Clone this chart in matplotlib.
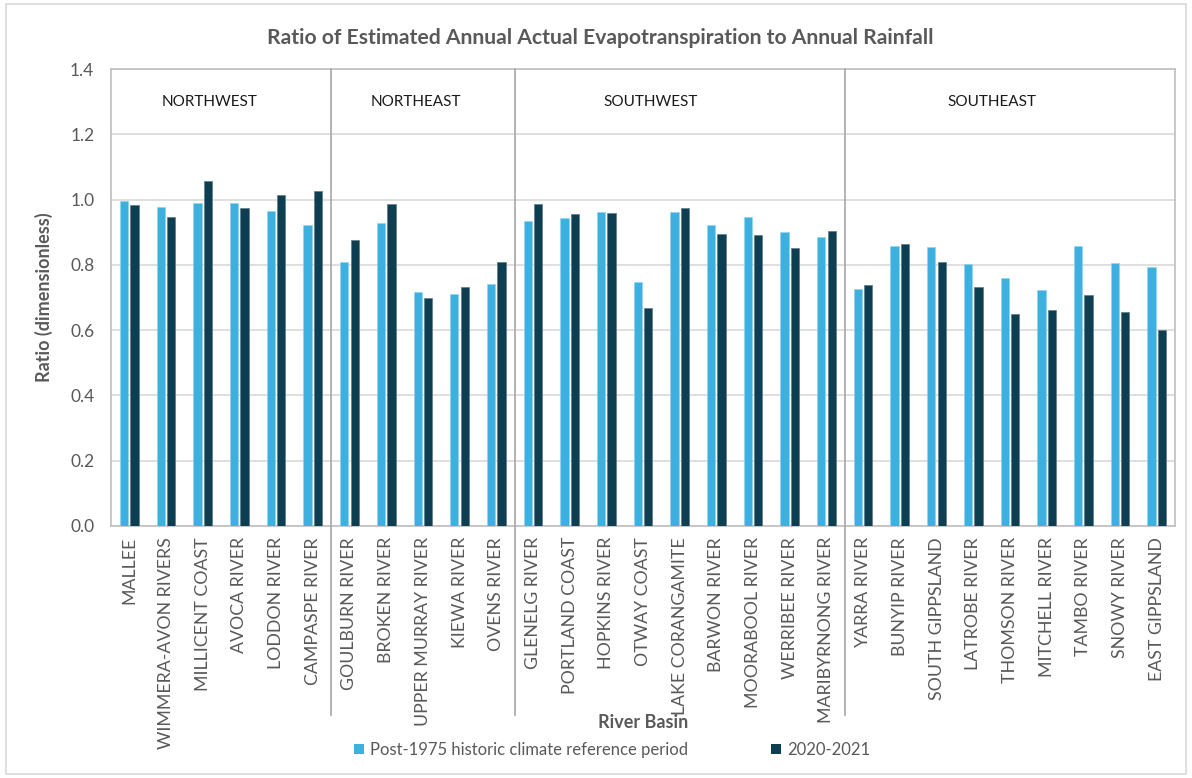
import matplotlib
matplotlib.use("Agg")
import matplotlib.pyplot as plt
import numpy as np
from matplotlib.transforms import blended_transform_factory
from matplotlib.patches import Rectangle, Patch

plt.rcParams['font.family'] = ['Lato', 'DejaVu Sans']

basins = [
    "MALLEE", "WIMMERA-AVON RIVERS", "MILLICENT COAST", "AVOCA RIVER",
    "LODDON RIVER", "CAMPASPE RIVER",
    "GOULBURN RIVER", "BROKEN RIVER", "UPPER MURRAY RIVER", "KIEWA RIVER",
    "OVENS RIVER",
    "GLENELG RIVER", "PORTLAND COAST", "HOPKINS RIVER", "OTWAY COAST",
    "LAKE CORANGAMITE", "BARWON RIVER", "MOORABOOL RIVER", "WERRIBEE RIVER",
    "MARIBYRNONG RIVER",
    "YARRA RIVER", "BUNYIP RIVER", "SOUTH GIPPSLAND", "LATROBE RIVER",
    "THOMSON RIVER", "MITCHELL RIVER", "TAMBO RIVER", "SNOWY RIVER",
    "EAST GIPPSLAND",
]

post_1975 = [
    0.995, 0.977, 0.990, 0.988, 0.966, 0.923,
    0.810, 0.927, 0.717, 0.710, 0.740,
    0.933, 0.944, 0.961, 0.746, 0.961, 0.922, 0.946, 0.901, 0.884,
    0.726, 0.858, 0.856, 0.803, 0.760, 0.724, 0.858, 0.805, 0.792,
]

y2020_21 = [
    0.983, 0.947, 1.056, 0.975, 1.013, 1.025,
    0.875, 0.985, 0.698, 0.732, 0.808,
    0.985, 0.956, 0.958, 0.669, 0.975, 0.896, 0.892, 0.853, 0.903,
    0.737, 0.865, 0.810, 0.732, 0.648, 0.662, 0.708, 0.657, 0.600,
]

regions = ["NORTHWEST", "NORTHEAST", "SOUTHWEST", "SOUTHEAST"]
region_sizes = [6, 5, 9, 9]
region_label_x = [2.2, 7.8, 14.2, 23.5]

series_labels = ["Post-1975 historic climate reference period", "2020-2021"]
light = "#3db0df"
dark = "#0e3e52"
text_grey = "#595959"

W, H = 1192, 778
fig = plt.figure(figsize=(W / 100, H / 100), dpi=100)
ax = fig.add_axes([111 / W, 1 - 526 / H, (1175 - 111) / W, (526 - 69) / H])

x = np.arange(len(basins))
bw = 0.226
ax.bar(x - 0.142, post_1975, width=bw, color=light, edgecolor="#8fd3ef",
       linewidth=0.5, zorder=3)
ax.bar(x + 0.142, y2020_21, width=bw, color=dark, edgecolor="#5f7a86",
       linewidth=0.5, zorder=3)

ax.set_xlim(-0.5, len(basins) - 0.5)
ax.set_ylim(0, 1.4)
ax.set_yticks(np.arange(0, 1.41, 0.2))
ax.set_yticklabels([f"{v:.1f}" for v in np.arange(0, 1.41, 0.2)])
ax.yaxis.grid(True, color="#d9d9d9", linewidth=1.2, zorder=0)
ax.set_axisbelow(True)
ax.tick_params(axis="y", length=0, pad=12, labelsize=12.5, labelcolor=text_grey)
ax.set_xticks(x)
ax.set_xticklabels(basins, rotation=90, fontsize=12.8, color=text_grey)
ax.tick_params(axis="x", length=0, pad=8)
for side in ["left", "top", "right", "bottom"]:
    ax.spines[side].set_color("#bfbfbf")
    ax.spines[side].set_linewidth(1.2)

# Region dividers running from the top of the plot down through the labels
trans = blended_transform_factory(ax.transData, fig.transFigure)
bounds = np.cumsum(region_sizes)[:-1] - 0.5
for b in bounds:
    ax.plot([b, b], [1 - 69 / H, 1 - 715 / H], transform=trans,
            color="#a6a6a6", linewidth=1.2, clip_on=False, zorder=4)

for name, rx in zip(regions, region_label_x):
    ax.text(rx, 1.3, name, ha="center", va="center", fontsize=11,
            color="#1a1a1a")

ax.set_ylabel("Ratio (dimensionless)", fontsize=13, fontweight="bold",
              color=text_grey, labelpad=12)
fig.text((111 + 1175) / 2 / W, 1 - 722 / H, "River Basin", ha="center",
         va="center", fontsize=13, fontweight="bold", color=text_grey)

fig.text(600 / W, 1 - 38 / H,
         "Ratio of Estimated Annual Actual Evapotranspiration to Annual Rainfall",
         ha="center", va="center", fontsize=15.2, fontweight="bold",
         color=text_grey)

handles = [Patch(facecolor=light, edgecolor="none"),
           Patch(facecolor=dark, edgecolor="none")]
fig.legend(handles, series_labels, loc="center", ncol=2,
           bbox_to_anchor=(612 / W, 1 - 750 / H), frameon=False,
           fontsize=12, handlelength=0.6, handleheight=0.6,
           handletextpad=0.35, columnspacing=5.0, labelcolor=text_grey)

fig.patches.append(Rectangle((6 / W, 4 / H), (1186 - 6) / W, (774 - 4) / H,
                             transform=fig.transFigure, fill=False,
                             edgecolor="#d9d9d9", linewidth=1.2))

fig.savefig("out.png", dpi=100)
